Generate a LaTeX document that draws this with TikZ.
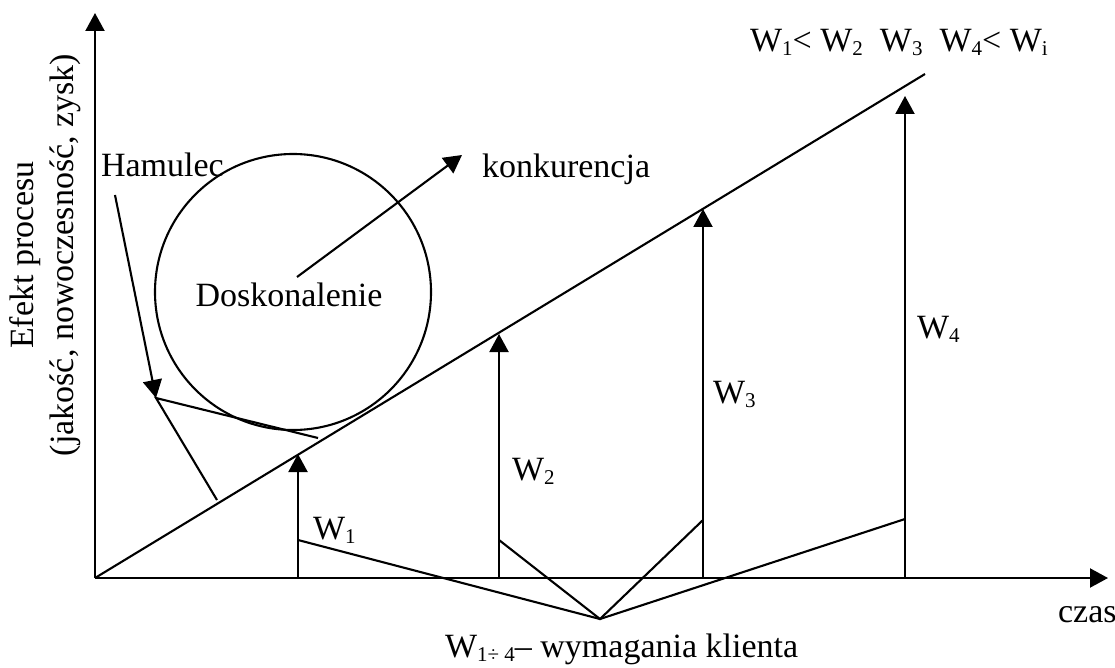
\documentclass[tikz,border=0pt]{standalone}
\usepackage{fontspec}
\setmainfont{Liberation Serif}
\usetikzlibrary{arrows.meta}
\newcommand{\Wsub}[1]{W\raisebox{-4pt}{\fontsize{21}{21}\selectfont #1}}
\begin{document}
\begin{tikzpicture}[x=1pt,y=-1pt, line width=2.1pt,
  arr/.style={-{Triangle[length=18pt,width=19pt]}},
  lbl/.style={font=\fontsize{34}{40}\selectfont, inner sep=0pt}]
\useasboundingbox (0,0) rectangle (1115,668);
% axes
\coordinate (O) at (95,578);
\coordinate (Ytop) at (95,13);
\coordinate (Xend) at (1108,578);
\draw[arr] (O) -- (Ytop);
\draw[arr] (O) -- (Xend);
% diagonal
\coordinate (D) at (925,74);
\draw (O) -- (D);
% vertical arrows
\coordinate (B1) at (298,578); \coordinate (T1) at (298,454);
\coordinate (B2) at (499,578); \coordinate (T2) at (499,334);
\coordinate (B3) at (703,578); \coordinate (T3) at (703,209);
\coordinate (B4) at (905,578); \coordinate (T4) at (905,96);
\draw[arr] (B1) -- (T1);
\draw[arr] (B2) -- (T2);
\draw[arr] (B3) -- (T3);
\draw[arr] (B4) -- (T4);
% client requirements V
\coordinate (V) at (600,619);
\coordinate (R1) at (298,540);
\coordinate (R2) at (499,540);
\coordinate (R3) at (703,520);
\coordinate (R4) at (905,519);
\draw (R1) -- (V) -- (R4);
\draw (R2) -- (V) -- (R3);
% circle
\node[draw, circle, minimum size=276pt, inner sep=0pt] (C) at (293,292) {};
\node[lbl, anchor=base] (dosk) at (289,306) {Doskonalenie};
% konkurencja arrow
\coordinate (K0) at (297,277);
\coordinate (K1) at (462,155);
\draw[arr] (K0) -- (K1);
\node[lbl, anchor=base west] (konk) at (481,178) {konkurencja};
% Hamulec
\node[lbl, anchor=base west] (ham) at (100,177) {Hamulec};
\coordinate (H0) at (115,195);
\coordinate (P) at (156,398);
\coordinate (P1) at (318,438);
\coordinate (P2) at (217,500);
\draw[arr] (H0) -- (P);
\draw (P1) -- (P) -- (P2);
% W labels
\node[lbl, anchor=base west] (w1) at (312,539) {\Wsub{1}};
\node[lbl, anchor=base west] (w2) at (511,480) {\Wsub{2}};
\node[lbl, anchor=base west] (w3) at (712,403) {\Wsub{3}};
\node[lbl, anchor=base west] (w4) at (916,338) {\Wsub{4}};
% title
\node[lbl, anchor=base west] (title) at (749,52) {\Wsub{1}< \Wsub{2}\ \ \Wsub{3}\ \ \Wsub{4}< W\raisebox{-4pt}{\fontsize{21}{21}\selectfont i}};
% bottom label
\node[lbl, anchor=base west] (klient) at (444,657) {W\raisebox{-4pt}{\fontsize{21}{21}\selectfont 1÷ 4}– wymagania klienta};
\node[lbl, anchor=base west] (czas) at (1057,622) {czas};
% y label
\node[lbl, rotate=90, align=center] (ylab) at (45,255) {Efekt procesu\\(jakość, nowoczesność, zysk)};
\end{tikzpicture}
\end{document}
